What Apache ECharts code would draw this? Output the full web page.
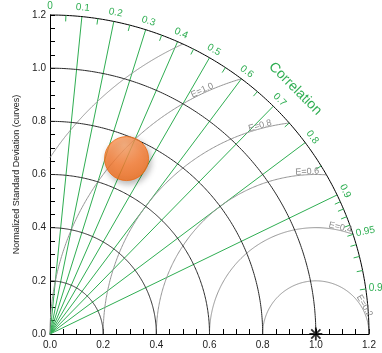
<!DOCTYPE html>
<html>
<head>
<meta charset="utf-8">
<script src="https://cdn.jsdelivr.net/npm/echarts@6/dist/echarts.min.js"></script>
<style>
  html, body { margin: 0; padding: 0; background: #fff; }
  #chart { width: 382px; height: 353px; }
</style>
</head>
<body>
<div id="chart"></div>
<script>
// Normalized standard deviation (radial axis, also the x / y tick labels)
const stdTicks = [0, 0.2, 0.4, 0.6, 0.8, 1.0, 1.2];
// Correlation: radial lines, labels on the outer arc, small ticks in between
const corrLines = [0.1, 0.2, 0.3, 0.4, 0.5, 0.6, 0.7, 0.8, 0.9];
const corrLabels = [0, 0.1, 0.2, 0.3, 0.4, 0.5, 0.6, 0.7, 0.8, 0.9, 0.95, 0.99];
const corrMinorTicks = [0.05, 0.15, 0.25, 0.35, 0.45, 0.55, 0.65, 0.75, 0.85,
                        0.91, 0.92, 0.93, 0.94, 0.95, 0.96, 0.97, 0.98, 0.99];
// Centered RMS difference contours around the reference point
const rmsLevels = [0.2, 0.4, 0.6, 0.8, 1.0, 1.2];
const rmsLabels = ['E=0.2', 'E=0.4', 'E=0.6', 'E=0.8', 'E=1.0', ''];
// Reference (observation) and model statistics
const refStd = 1.0;
const modelStd = [0.72];
const modelCorr = [0.40];

const R = stdTicks[stdTicks.length - 1];
const GREEN = '#2fae52';
const FONT = 'Liberation Sans, Arial, sans-serif';
// where along each RMS contour its label sits (degrees around the reference point)
const rmsLabelAngle = [30, 77, 93, 105, 115, 0];

function renderDiagram(params, api) {
  const P = (x, y) => api.coord([x, y]);
  const unit = api.size([1, 1])[0];
  const kids = [];

  // standard deviation arcs
  stdTicks.filter(v => v > 0).forEach(r => {
    const pts = [];
    for (let i = 0; i <= 180; i++) {
      const a = i / 180 * Math.PI / 2;
      pts.push(P(r * Math.cos(a), r * Math.sin(a)));
    }
    kids.push({ type: 'polyline', z2: 3, shape: { points: pts },
      style: { stroke: r === R ? '#000' : '#2a2a2a', lineWidth: 1, fill: null } });
  });

  // RMS difference contours (clipped to the quadrant and the outer arc)
  rmsLevels.forEach((e, k) => {
    let cEnd = (R * R - refStd * refStd - e * e) / (2 * refStd * e);
    cEnd = Math.max(-1, Math.min(1, cEnd));
    const phiEnd = Math.acos(cEnd);
    const phiStart = refStd - e >= 0 ? Math.PI : Math.acos(-refStd / e);
    const pts = [];
    for (let i = 0; i <= 200; i++) {
      const p = phiEnd + (phiStart - phiEnd) * i / 200;
      pts.push(P(refStd + e * Math.cos(p), e * Math.sin(p)));
    }
    kids.push({ type: 'polyline', z2: 2, shape: { points: pts },
      style: { stroke: '#959595', lineWidth: 1, fill: null } });
    if (rmsLabels[k]) {
      const p = rmsLabelAngle[k] * Math.PI / 180;
      const q = P(refStd + e * Math.cos(p), e * Math.sin(p));
      kids.push({ type: 'text', z2: 6, x: q[0], y: q[1], rotation: p - Math.PI / 2,
        style: { text: rmsLabels[k], x: 0, y: -3, fill: '#8a8a8a', font: '9px ' + FONT,
          align: 'center', verticalAlign: 'middle' } });
    }
  });

  // correlation rays
  corrLines.forEach(c => {
    const t = Math.acos(c);
    const o = P(0, 0), e = P(R * c, R * Math.sin(t));
    kids.push({ type: 'line', z2: 1,
      shape: { x1: o[0], y1: o[1], x2: e[0], y2: e[1] },
      style: { stroke: GREEN, lineWidth: 1 } });
  });

  // small ticks inside the outer arc
  const tickLen = 6 / unit;
  corrMinorTicks.forEach(c => {
    const t = Math.acos(c);
    const a = P(R * Math.cos(t), R * Math.sin(t));
    const b = P((R - tickLen) * Math.cos(t), (R - tickLen) * Math.sin(t));
    kids.push({ type: 'line', z2: 4, shape: { x1: a[0], y1: a[1], x2: b[0], y2: b[1] },
      style: { stroke: GREEN, lineWidth: 1 } });
  });

  // correlation labels
  corrLabels.forEach(c => {
    const t = Math.acos(c);
    const near = c >= 0.95;
    const rl = near ? R + 3 / unit : R + 9 / unit;
    const q = P(rl * Math.cos(t), rl * Math.sin(t));
    kids.push({ type: 'text', z2: 6, x: q[0], y: q[1],
      rotation: near ? (c < 0.97 ? 0.2 : 0) : t - Math.PI / 2,
      style: { text: String(c), x: 0, y: 0, fill: GREEN, font: '10px ' + FONT,
        align: near ? 'left' : 'center', verticalAlign: 'middle' } });
  });

  // axis title for the correlation arc
  const tc = Math.PI / 4, rc = R + 0.105;
  const qc = P(rc * Math.cos(tc), rc * Math.sin(tc));
  kids.push({ type: 'text', z2: 6, x: qc[0], y: qc[1], rotation: tc - Math.PI / 2,
    style: { text: 'Correlation', x: 0, y: 0, fill: GREEN, font: '14px ' + FONT,
      align: 'center', verticalAlign: 'middle' } });

  return { type: 'group', children: kids };
}

// four crossed bars forming an asterisk marker
function starPath() {
  const L = 10, w = 1.4;
  return 'path://' + [0, 45, 90, 135].map(deg => {
    const a = deg * Math.PI / 180, c = Math.cos(a), s = Math.sin(a);
    const pts = [[-L, -w], [L, -w], [L, w], [-L, w]].map(([x, y]) =>
      (x * c - y * s).toFixed(3) + ',' + (x * s + y * c).toFixed(3));
    return 'M' + pts.join(' L') + ' Z';
  }).join(' ');
}

const axisCommon = {
  type: 'value', min: 0, max: R, interval: 0.2,
  axisLine: { show: true, lineStyle: { color: '#000', width: 1 } },
  axisTick: { show: true, inside: true, length: 5, lineStyle: { color: '#000' } },
  minorTick: { show: true, splitNumber: 4, length: 5, lineStyle: { color: '#000' } },
  splitLine: { show: false },
  axisLabel: { fontSize: 10, color: '#222', fontFamily: FONT, formatter: v => v.toFixed(1) }
};

const chart = echarts.init(document.getElementById('chart'));
chart.setOption({
  animation: false,
  backgroundColor: '#fff',
  grid: { left: 50, top: 15, width: 319, height: 319 },
  xAxis: Object.assign({}, axisCommon, {
    axisLabel: Object.assign({}, axisCommon.axisLabel, { margin: 6 })
  }),
  yAxis: Object.assign({}, axisCommon, {
    axisLabel: Object.assign({}, axisCommon.axisLabel, { margin: 4 }),
    name: 'Normalized Standard Deviation (curves)',
    nameLocation: 'middle', nameGap: 28,
    nameTextStyle: { fontSize: 9, color: '#222', fontFamily: FONT }
  }),
  series: [
    {
      type: 'custom', coordinateSystem: 'cartesian2d', silent: true, clip: false, z: 1,
      data: [[0, 0]], renderItem: renderDiagram
    },
    {
      type: 'scatter', z: 5, silent: true, clip: false,
      data: [[refStd, 0]], symbol: starPath(), symbolSize: 13,
      itemStyle: { color: '#000' }
    },
    {
      type: 'scatter', z: 6, silent: true, clip: false,
      data: modelStd.map((s, i) => [s * modelCorr[i], s * Math.sqrt(1 - modelCorr[i] * modelCorr[i])]),
      symbol: 'circle', symbolSize: 44,
      itemStyle: {
        color: new echarts.graphic.RadialGradient(0.45, 0.2, 0.9, [
          { offset: 0, color: '#ffa86e' },
          { offset: 0.5, color: '#ff8034' },
          { offset: 1, color: '#f06812' }
        ]),
        borderColor: '#ea6a14', borderWidth: 1,
        shadowBlur: 6, shadowColor: 'rgba(0,0,0,0.35)', shadowOffsetX: 2, shadowOffsetY: 3
      }
    }
  ]
});
</script>
</body>
</html>
